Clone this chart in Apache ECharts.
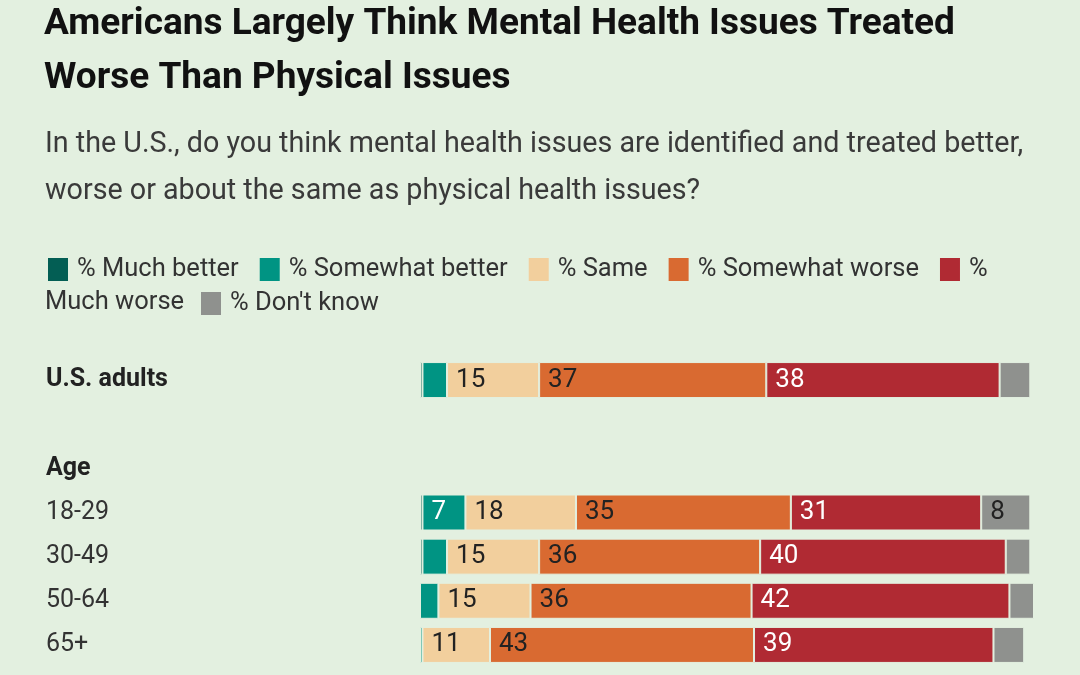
<!DOCTYPE html>
<html>
<head>
<meta charset="utf-8">
<script src="https://cdn.jsdelivr.net/npm/echarts@6/dist/echarts.min.js"></script>
<style>
  html, body { margin: 0; padding: 0; background: #e3f0e0; }
  #chart { width: 1080px; height: 675px; }
</style>
</head>
<body>
<div id="chart"></div>
<script>
// rows, top to bottom (blank row and 'Age' header carry no bars)
let categories = ['U.S. adults', '', 'Age', '18-29', '30-49', '50-64', '65+'];
let boldRows = ['U.S. adults', 'Age'];

let seriesNames = ['% Much better', '% Somewhat better', '% Same', '% Somewhat worse', '% Much worse', "% Don't know"];
let muchBetter     = [0.4, null, null, 0.4, 0.4, 0, 0];
let somewhatBetter = [4, null, null, 7, 4, 3, 0.4];
let same           = [15, null, null, 18, 15, 15, 11];
let somewhatWorse  = [37, null, null, 35, 36, 36, 43];
let muchWorse      = [38, null, null, 31, 40, 42, 39];
let dontKnow       = [5, null, null, 8, 4, 4, 5];

let colors = ['#035e54', '#009483', '#f2cf9d', '#d96a31', '#b02a33', '#8f918e'];
let labelColors = ['#fff', '#fff', '#222', '#222', '#fff', '#222'];

let chart = echarts.init(document.getElementById('chart'));
let font = 'Roboto';
let bg = '#e3f0e0';

let makeSeries = function (name, values, i) {
    return {
        name: name,
        type: 'bar',
        stack: 'total',
        barWidth: 36,
        data: values,
        itemStyle: { color: colors[i], borderColor: bg, borderWidth: 1 },
        label: {
            show: true,
            position: 'insideLeft',
            distance: 9,
            fontFamily: font,
            fontSize: 26,
            color: labelColors[i],
            formatter: function (p) {
                return p.value >= 6 ? String(p.value) : '';
            }
        }
    };
};

let allValues = [muchBetter, somewhatBetter, same, somewhatWorse, muchWorse, dontKnow];

let option = {
    backgroundColor: bg,
    title: [{
        text: 'Americans Largely Think Mental Health Issues Treated\nWorse Than Physical Issues',
        left: 44,
        top: -2,
        padding: 0,
        textStyle: { fontFamily: font, fontWeight: 'bold', fontSize: 37, lineHeight: 54, color: '#111' }
    }, {
        text: 'In the U.S., do you think mental health issues are identified and treated better,\nworse or about the same as physical health issues?',
        left: 45,
        top: 121,
        padding: 0,
        textStyle: { fontFamily: font, fontWeight: 'normal', fontSize: 28.7, lineHeight: 47, color: '#3a3a3a' }
    }],
    legend: [{
        left: 46,
        top: 256,
        padding: 0,
        icon: 'rect',
        itemWidth: 22,
        itemHeight: 25,
        itemGap: 19,
        data: seriesNames.slice(0, 5),
        formatter: function (name) {
            return name === '% Much worse' ? '%' : name;
        },
        textStyle: { fontFamily: font, fontSize: 25.5, color: '#333', padding: [0, 0, 0, 3] }
    }, {
        left: 199,
        top: 290,
        padding: 0,
        icon: 'rect',
        itemWidth: 22,
        itemHeight: 25,
        data: seriesNames.slice(5),
        textStyle: { fontFamily: font, fontSize: 25.5, color: '#333', padding: [0, 0, 0, 3] }
    }],
    graphic: [{
        type: 'text',
        left: 45,
        top: 290,
        style: { text: 'Much worse', fontFamily: font, fontSize: 25.5, fill: '#333', lineHeight: 25 }
    }],
    grid: { left: 420, right: 46, top: 358, bottom: 8 },
    xAxis: { type: 'value', min: 0, max: 100, show: false },
    yAxis: {
        type: 'category',
        inverse: true,
        data: categories,
        axisLine: { show: false },
        axisTick: { show: false },
        axisLabel: {
            align: 'left',
            margin: 374,
            fontFamily: font,
            fontSize: 25,
            color: '#333',
            formatter: function (v) {
                return boldRows.indexOf(v) >= 0 ? '{b|' + v + '}' : v;
            },
            rich: { b: { fontFamily: font, fontSize: 25, fontWeight: 'bold', color: '#222' } }
        }
    },
    series: seriesNames.map(function (n, i) { return makeSeries(n, allValues[i], i); })
};

chart.setOption(option);
</script>
</body>
</html>
